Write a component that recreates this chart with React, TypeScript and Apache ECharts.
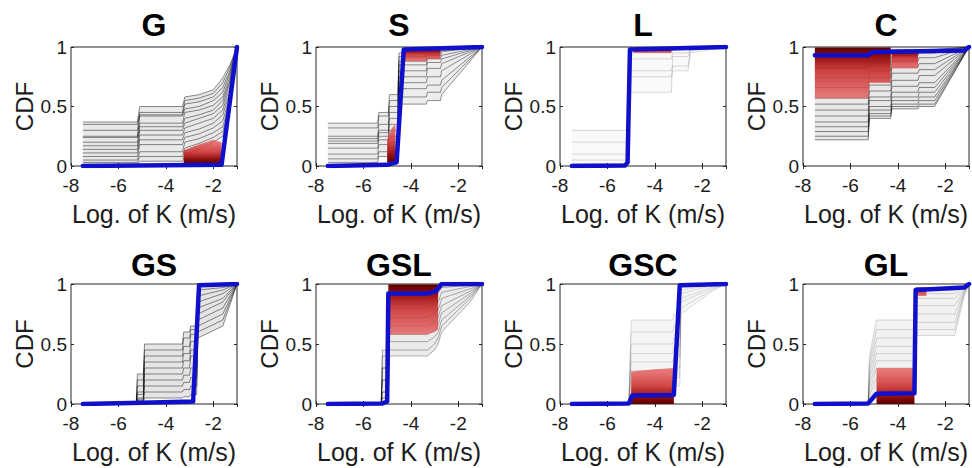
import React, { useEffect, useRef } from 'react';
import * as echarts from 'echarts';

// ---------- axis settings ----------
const X_MIN = -8;
const X_MAX = -1;
const X_STEP = 2;
const Y_MIN = 0;
const Y_MAX = 1;
const Y_STEP = 0.5;
const X_NAME = 'Log. of K (m/s)';
const Y_NAME = 'CDF';
const TITLES = ['G', 'S', 'L', 'C', 'GS', 'GSL', 'GSC', 'GL'];

// ---------- G ----------
const G_X = [-7.5, -5.2, -5.1, -3.3, -3.2, -2.6, -2.0, -1.6, -1.3, -1.0];
const G_CURVES = [
  [0.37, 0.37, 0.50, 0.50, 0.58, 0.60, 0.64, 0.74, 0.85, 1],
  [0.35, 0.35, 0.45, 0.45, 0.55, 0.57, 0.61, 0.70, 0.83, 1],
  [0.30, 0.30, 0.43, 0.43, 0.52, 0.54, 0.58, 0.66, 0.80, 1],
  [0.25, 0.25, 0.42, 0.42, 0.48, 0.50, 0.55, 0.62, 0.78, 1],
  [0.24, 0.24, 0.36, 0.36, 0.45, 0.47, 0.51, 0.58, 0.75, 1],
  [0.20, 0.20, 0.33, 0.33, 0.40, 0.43, 0.47, 0.55, 0.72, 1],
  [0.17, 0.17, 0.30, 0.30, 0.36, 0.40, 0.44, 0.51, 0.70, 1],
  [0.14, 0.14, 0.26, 0.26, 0.32, 0.36, 0.40, 0.47, 0.66, 1],
  [0.11, 0.11, 0.22, 0.22, 0.28, 0.31, 0.36, 0.43, 0.62, 1],
  [0.08, 0.08, 0.18, 0.18, 0.24, 0.27, 0.32, 0.38, 0.58, 1],
  [0.05, 0.05, 0.12, 0.12, 0.20, 0.23, 0.28, 0.33, 0.54, 1],
  [0.03, 0.03, 0.08, 0.08, 0.15, 0.19, 0.24, 0.29, 0.50, 1],
  [0.01, 0.01, 0.04, 0.04, 0.10, 0.14, 0.20, 0.25, 0.45, 1],
];
const G_BLUE_X = [-7.5, -5.2, -1.65, -1.0];
const G_BLUE_Y = [0, 0.005, 0.01, 1];
const G_RED_X = [-3.25, -2.6, -2.0, -1.65];
const G_RED_LO = [0.02, 0.02, 0.02, 0.02];
const G_RED_HI = [0.13, 0.18, 0.22, 0.2];

// ---------- S ----------
const S_X = [-7.5, -5.4, -5.35, -4.95, -4.9, -4.55, -4.5, -3.35, -3.3, -2.75, -2.7, -1.0];
const S_CURVES = [
  [0.36, 0.36, 0.45, 0.45, 0.60, 0.60, 0.95, 0.95, 0.97, 0.97, 0.98, 1],
  [0.32, 0.32, 0.42, 0.42, 0.55, 0.55, 0.92, 0.92, 0.96, 0.96, 0.97, 1],
  [0.25, 0.25, 0.35, 0.35, 0.50, 0.50, 0.88, 0.88, 0.93, 0.93, 0.96, 1],
  [0.23, 0.23, 0.30, 0.30, 0.45, 0.45, 0.85, 0.85, 0.90, 0.90, 0.93, 1],
  [0.21, 0.21, 0.28, 0.28, 0.40, 0.40, 0.80, 0.80, 0.87, 0.87, 0.90, 1],
  [0.19, 0.19, 0.25, 0.25, 0.35, 0.35, 0.75, 0.75, 0.82, 0.82, 0.86, 1],
  [0.15, 0.15, 0.22, 0.22, 0.30, 0.30, 0.70, 0.70, 0.75, 0.75, 0.80, 1],
  [0.10, 0.10, 0.18, 0.18, 0.25, 0.25, 0.65, 0.65, 0.68, 0.68, 0.72, 1],
  [0.06, 0.06, 0.12, 0.12, 0.20, 0.20, 0.58, 0.58, 0.62, 0.62, 0.66, 1],
  [0.03, 0.03, 0.08, 0.08, 0.15, 0.15, 0.52, 0.52, 0.55, 0.55, 0.60, 1],
];
const S_BLUE_X = [-7.5, -5.0, -4.6, -4.3, -1.0];
const S_BLUE_Y = [0, 0.01, 0.03, 0.98, 1];
const S_RED1_X = [-5.0, -4.8, -4.65];
const S_RED1_LO = [0.03, 0.03, 0.03];
const S_RED1_HI = [0.22, 0.32, 0.35];
const S_RED2_X = [-4.3, -3.35, -3.3, -2.75];
const S_RED2_LO = [0.88, 0.88, 0.9, 0.9];
const S_RED2_HI = [0.985, 0.985, 0.985, 0.985];

// ---------- L ----------
const L_X = [-7.5, -5.2, -5.1, -3.3, -3.25, -2.6, -2.5, -1.0];
const L_CURVES = [
  [0.30, 0.30, 0.97, 0.97, 0.99, 0.99, 1.0, 1],
  [0.20, 0.20, 0.95, 0.95, 0.98, 0.98, 1.0, 1],
  [0.10, 0.10, 0.90, 0.90, 0.95, 0.95, 0.99, 1],
  [0.05, 0.05, 0.80, 0.80, 0.84, 0.84, 0.97, 1],
  [0.02, 0.02, 0.75, 0.75, 0.80, 0.80, 0.95, 1],
  [0.00, 0.00, 0.62, 0.62, 0.92, 0.92, 0.98, 1],
];
const L_BLUE_X = [-7.5, -5.25, -5.15, -5.05, -1.0];
const L_BLUE_Y = [0, 0.005, 0.03, 0.98, 1];
const L_RED_X = [-4.9, -3.3];
const L_RED_LO = [0.95, 0.95];
const L_RED_HI = [0.975, 0.975];

// ---------- C ----------
const C_X = [-7.5, -5.25, -5.2, -4.3, -4.25, -3.15, -3.1, -2.45, -1.0];
const C_CURVES = [
  [0.96, 0.96, 0.97, 0.97, 0.98, 0.98, 0.98, 0.98, 1],
  [0.90, 0.90, 0.93, 0.93, 0.96, 0.96, 0.97, 0.97, 1],
  [0.82, 0.82, 0.87, 0.87, 0.93, 0.93, 0.95, 0.95, 1],
  [0.74, 0.74, 0.80, 0.80, 0.88, 0.88, 0.91, 0.91, 1],
  [0.66, 0.66, 0.74, 0.74, 0.83, 0.83, 0.86, 0.86, 1],
  [0.57, 0.57, 0.68, 0.68, 0.78, 0.78, 0.81, 0.81, 1],
  [0.52, 0.52, 0.63, 0.63, 0.72, 0.72, 0.76, 0.76, 1],
  [0.47, 0.47, 0.58, 0.58, 0.67, 0.67, 0.70, 0.70, 1],
  [0.42, 0.42, 0.55, 0.55, 0.62, 0.62, 0.66, 0.66, 1],
  [0.37, 0.37, 0.50, 0.50, 0.58, 0.58, 0.62, 0.62, 1],
  [0.33, 0.33, 0.47, 0.47, 0.55, 0.55, 0.58, 0.58, 1],
  [0.29, 0.29, 0.44, 0.44, 0.52, 0.52, 0.55, 0.55, 1],
  [0.25, 0.25, 0.42, 0.42, 0.50, 0.50, 0.52, 0.52, 1],
  [0.22, 0.22, 0.40, 0.40, 0.48, 0.48, 0.50, 0.50, 1],
];
const C_BLUE_X = [-7.5, -5.25, -5.1, -4.3, -1.2, -1.0];
const C_BLUE_Y = [0.93, 0.93, 0.955, 0.96, 0.97, 1];
const C_RED1_X = [-7.5, -5.25, -5.2, -4.3];
const C_RED1_LO = [0.57, 0.57, 0.7, 0.7];
const C_RED1_HI = [0.995, 0.995, 0.995, 0.995];
const C_RED2_X = [-4.25, -3.15];
const C_RED2_LO = [0.82, 0.82];
const C_RED2_HI = [0.975, 0.975];

// ---------- GS ----------
const GS_X = [-7.5, -5.25, -5.2, -4.95, -4.9, -3.3, -3.25, -3.0, -2.95, -2.7, -2.65, -1.6, -1.0];
const GS_CURVES = [
  [0, 0, 0.25, 0.25, 0.50, 0.50, 0.60, 0.60, 0.65, 0.65, 0.99, 0.99, 1],
  [0, 0, 0.20, 0.20, 0.45, 0.45, 0.55, 0.55, 0.62, 0.62, 0.95, 0.97, 1],
  [0, 0, 0.15, 0.15, 0.40, 0.40, 0.48, 0.48, 0.58, 0.58, 0.90, 0.95, 1],
  [0, 0, 0.10, 0.10, 0.35, 0.35, 0.42, 0.42, 0.52, 0.52, 0.85, 0.92, 1],
  [0, 0, 0.08, 0.08, 0.30, 0.30, 0.36, 0.36, 0.45, 0.45, 0.80, 0.88, 1],
  [0, 0, 0.05, 0.05, 0.25, 0.25, 0.30, 0.30, 0.40, 0.40, 0.75, 0.85, 1],
  [0, 0, 0.04, 0.04, 0.20, 0.20, 0.24, 0.24, 0.30, 0.30, 0.70, 0.80, 1],
  [0, 0, 0.03, 0.03, 0.15, 0.15, 0.18, 0.18, 0.22, 0.22, 0.65, 0.75, 1],
  [0, 0, 0.02, 0.02, 0.10, 0.10, 0.12, 0.12, 0.15, 0.15, 0.60, 0.70, 1],
  [0, 0, 0.01, 0.01, 0.05, 0.05, 0.06, 0.06, 0.08, 0.08, 0.55, 0.65, 1],
];
const GS_BLUE_X = [-7.5, -5.0, -2.85, -2.6, -1.0];
const GS_BLUE_Y = [0, 0.01, 0.02, 0.99, 1];

// ---------- GSL ----------
const GSL_X = [-7.5, -5.25, -5.2, -4.95, -4.9, -3.3, -3.0, -2.85, -2.7, -1.5, -1.0];
const GSL_CURVES = [
  [0, 0, 0.05, 0.05, 0.99, 0.99, 0.99, 0.99, 1.0, 1.0, 1],
  [0, 0, 0.10, 0.10, 0.95, 0.95, 0.96, 0.96, 0.99, 1.0, 1],
  [0, 0, 0.20, 0.20, 0.88, 0.88, 0.90, 0.92, 0.97, 0.99, 1],
  [0, 0, 0.30, 0.30, 0.80, 0.80, 0.83, 0.85, 0.93, 0.98, 1],
  [0, 0, 0.40, 0.40, 0.72, 0.72, 0.76, 0.78, 0.88, 0.96, 1],
  [0, 0, 0.45, 0.45, 0.65, 0.65, 0.68, 0.72, 0.82, 0.94, 1],
  [0, 0, 0.30, 0.30, 0.58, 0.58, 0.62, 0.66, 0.76, 0.92, 1],
  [0, 0, 0.20, 0.20, 0.52, 0.52, 0.56, 0.60, 0.70, 0.90, 1],
  [0, 0, 0.10, 0.10, 0.45, 0.45, 0.50, 0.55, 0.65, 0.88, 1],
  [0, 0, 0.05, 0.05, 0.40, 0.40, 0.45, 0.50, 0.60, 0.85, 1],
];
const GSL_BLUE_X = [-7.5, -5.2, -5.0, -4.95, -3.3, -2.95, -2.7, -1.0];
const GSL_BLUE_Y = [0, 0.005, 0.02, 0.92, 0.92, 0.94, 1.0, 1.0];
const GSL_RED_X = [-4.95, -3.3, -3.0, -2.85];
const GSL_RED_LO = [0.58, 0.58, 0.6, 0.62];
const GSL_RED_HI = [0.995, 0.995, 0.995, 0.995];

// ---------- GSC ----------
const GSC_X = [-7.5, -5.1, -5.0, -3.25, -3.2, -2.95, -2.9, -1.5, -1.0];
const GSC_CURVES = [
  [0, 0, 0.70, 0.70, 0.75, 0.75, 0.99, 1.0, 1],
  [0, 0, 0.60, 0.60, 0.65, 0.65, 0.97, 1.0, 1],
  [0, 0, 0.50, 0.50, 0.55, 0.55, 0.95, 0.99, 1],
  [0, 0, 0.42, 0.42, 0.48, 0.48, 0.92, 0.99, 1],
  [0, 0, 0.35, 0.35, 0.40, 0.40, 0.88, 0.98, 1],
  [0, 0, 0.28, 0.28, 0.30, 0.30, 0.85, 0.97, 1],
  [0, 0, 0.20, 0.20, 0.22, 0.22, 0.80, 0.96, 1],
  [0, 0, 0.12, 0.12, 0.15, 0.15, 0.75, 0.95, 1],
];
const GSC_BLUE_X = [-7.5, -5.1, -4.95, -3.2, -2.95, -1.0];
const GSC_BLUE_Y = [0, 0.005, 0.07, 0.075, 0.99, 1];
const GSC_RED_X = [-5.0, -4.0, -3.2];
const GSC_RED_LO = [0, 0, 0];
const GSC_RED_HI = [0.27, 0.29, 0.3];

// ---------- GL ----------
const GL_X = [-7.5, -5.25, -5.2, -4.9, -3.3, -3.25, -1.6, -1.2, -1.0];
const GL_CURVES = [
  [0, 0, 0.40, 0.70, 0.70, 0.97, 0.97, 0.99, 1],
  [0, 0, 0.35, 0.62, 0.62, 0.95, 0.95, 0.98, 1],
  [0, 0, 0.30, 0.55, 0.55, 0.92, 0.92, 0.97, 1],
  [0, 0, 0.25, 0.48, 0.48, 0.88, 0.88, 0.96, 1],
  [0, 0, 0.20, 0.42, 0.42, 0.82, 0.82, 0.95, 1],
  [0, 0, 0.15, 0.36, 0.36, 0.75, 0.75, 0.94, 1],
  [0, 0, 0.10, 0.30, 0.30, 0.68, 0.68, 0.93, 1],
  [0, 0, 0.06, 0.22, 0.22, 0.62, 0.62, 0.92, 1],
  [0, 0, 0.03, 0.15, 0.15, 0.57, 0.57, 0.90, 1],
];
const GL_BLUE_X = [-7.5, -5.25, -4.9, -3.3, -3.25, -1.2, -1.0];
const GL_BLUE_Y = [0, 0.005, 0.085, 0.09, 0.95, 0.97, 1];
const GL_RED1_X = [-4.9, -3.3];
const GL_RED1_LO = [0, 0];
const GL_RED1_HI = [0.3, 0.3];
const GL_RED2_X = [-3.25, -2.8];
const GL_RED2_LO = [0.9, 0.9];
const GL_RED2_HI = [0.97, 0.97];

// ---------- layout / style ----------
const FONT = '"Liberation Sans", Arial, Helvetica, sans-serif';
const INK = '#1c1c1c';
const BLUE = '#1010cc';
const LEFTS = [71, 316, 560, 803];
const ROW_TOP = [47, 284];
const ROW_H = [119, 120];
const GRID_W = 166;

type Band = { x: number[]; lo: number[]; hi: number[]; dark: 'top' | 'bottom' };
type Panel = {
  title: string;
  x: number[];
  curves: number[][];
  grayAlpha: number;
  shade: number;
  blueX: number[];
  blueY: number[];
  bands: Band[];
};

const PANELS: Panel[] = [
  { title: TITLES[0], x: G_X, curves: G_CURVES, grayAlpha: 0.45, shade: 0.09, blueX: G_BLUE_X, blueY: G_BLUE_Y,
    bands: [{ x: G_RED_X, lo: G_RED_LO, hi: G_RED_HI, dark: 'bottom' }] },
  { title: TITLES[1], x: S_X, curves: S_CURVES, grayAlpha: 0.42, shade: 0.07, blueX: S_BLUE_X, blueY: S_BLUE_Y,
    bands: [
      { x: S_RED1_X, lo: S_RED1_LO, hi: S_RED1_HI, dark: 'bottom' },
      { x: S_RED2_X, lo: S_RED2_LO, hi: S_RED2_HI, dark: 'top' },
    ] },
  { title: TITLES[2], x: L_X, curves: L_CURVES, grayAlpha: 0.15, shade: 0.025, blueX: L_BLUE_X, blueY: L_BLUE_Y,
    bands: [{ x: L_RED_X, lo: L_RED_LO, hi: L_RED_HI, dark: 'top' }] },
  { title: TITLES[3], x: C_X, curves: C_CURVES, grayAlpha: 0.45, shade: 0.09, blueX: C_BLUE_X, blueY: C_BLUE_Y,
    bands: [
      { x: C_RED1_X, lo: C_RED1_LO, hi: C_RED1_HI, dark: 'top' },
      { x: C_RED2_X, lo: C_RED2_LO, hi: C_RED2_HI, dark: 'top' },
    ] },
  { title: TITLES[4], x: GS_X, curves: GS_CURVES, grayAlpha: 0.45, shade: 0.1, blueX: GS_BLUE_X, blueY: GS_BLUE_Y, bands: [] },
  { title: TITLES[5], x: GSL_X, curves: GSL_CURVES, grayAlpha: 0.3, shade: 0.08, blueX: GSL_BLUE_X, blueY: GSL_BLUE_Y,
    bands: [{ x: GSL_RED_X, lo: GSL_RED_LO, hi: GSL_RED_HI, dark: 'top' }] },
  { title: TITLES[6], x: GSC_X, curves: GSC_CURVES, grayAlpha: 0.12, shade: 0.04, blueX: GSC_BLUE_X, blueY: GSC_BLUE_Y,
    bands: [{ x: GSC_RED_X, lo: GSC_RED_LO, hi: GSC_RED_HI, dark: 'bottom' }] },
  { title: TITLES[7], x: GL_X, curves: GL_CURVES, grayAlpha: 0.15, shade: 0.05, blueX: GL_BLUE_X, blueY: GL_BLUE_Y,
    bands: [
      { x: GL_RED1_X, lo: GL_RED1_LO, hi: GL_RED1_HI, dark: 'bottom' },
      { x: GL_RED2_X, lo: GL_RED2_LO, hi: GL_RED2_HI, dark: 'top' },
    ] },
];

function redGradient(dark: 'top' | 'bottom') {
  const stops =
    dark === 'top'
      ? [
          { offset: 0, color: '#5a0000' },
          { offset: 0.16, color: '#8e0c0c' },
          { offset: 0.45, color: 'rgba(200,45,45,0.9)' },
          { offset: 1, color: 'rgba(228,95,95,0.8)' },
        ]
      : [
          { offset: 0, color: 'rgba(232,100,100,0.8)' },
          { offset: 0.5, color: 'rgba(205,50,50,0.9)' },
          { offset: 0.82, color: '#8e0c0c' },
          { offset: 1, color: '#5a0000' },
        ];
  return new echarts.graphic.LinearGradient(0, 0, 0, 1, stops);
}

function polygonSeries(xi: number, yi: number, xs: number[], lo: number[], hi: number[], fill: any, z: number) {
  return {
    type: 'custom', xAxisIndex: xi, yAxisIndex: yi, silent: true, z,
    data: [[xs[0], lo[0]]],
    renderItem: (_params: any, api: any) => {
      const pts: number[][] = [];
      for (let k = 0; k < xs.length; k++) pts.push(api.coord([xs[k], hi[k]]));
      for (let k = xs.length - 1; k >= 0; k--) pts.push(api.coord([xs[k], lo[k]]));
      return { type: 'polygon', shape: { points: pts }, style: { fill, stroke: 'none' } };
    },
  };
}

function buildOption() {
  const grid: any[] = [];
  const xAxis: any[] = [];
  const yAxis: any[] = [];
  const series: any[] = [];
  const graphic: any[] = [];

  PANELS.forEach((p, i) => {
    const row = i < 4 ? 0 : 1;
    const left = LEFTS[i % 4];
    const top = ROW_TOP[row];
    const h = ROW_H[row];
    grid.push({
      left, top, width: GRID_W, height: h, show: true,
      borderColor: '#262626', borderWidth: 1, backgroundColor: '#ffffff',
    });
    const tick = { show: true, inside: true, length: 3, lineStyle: { color: '#262626', width: 1 } };
    xAxis.push({
      gridIndex: i, type: 'value', min: X_MIN, max: X_MAX, interval: X_STEP, position: 'bottom',
      axisLine: { show: false }, axisTick: tick, splitLine: { show: false },
      axisLabel: { fontSize: 19, color: INK, margin: 10, fontFamily: FONT, showMaxLabel: false },
      name: X_NAME, nameLocation: 'middle', nameGap: 35,
      nameTextStyle: { fontSize: 25, color: INK, fontFamily: FONT },
    });
    xAxis.push({
      gridIndex: i, type: 'value', min: X_MIN, max: X_MAX, interval: X_STEP, position: 'top',
      axisLine: { show: false }, axisTick: tick, splitLine: { show: false }, axisLabel: { show: false },
    });
    yAxis.push({
      gridIndex: i, type: 'value', min: Y_MIN, max: Y_MAX, interval: Y_STEP, position: 'left',
      axisLine: { show: false }, axisTick: tick, splitLine: { show: false },
      axisLabel: { fontSize: 19, color: INK, margin: 4, fontFamily: FONT },
      name: Y_NAME, nameLocation: 'middle', nameGap: 33,
      nameTextStyle: { fontSize: 24, color: INK, fontFamily: FONT },
    });
    yAxis.push({
      gridIndex: i, type: 'value', min: Y_MIN, max: Y_MAX, interval: Y_STEP, position: 'right',
      axisLine: { show: false }, axisTick: tick, splitLine: { show: false }, axisLabel: { show: false },
    });
    const xi = i * 2;
    const yi = i * 2;

    // light envelope of the ensemble (from the min and max of the curves)
    const envLo = p.x.map((_, k) => Math.min(...p.curves.map((c) => c[k])));
    const envHi = p.x.map((_, k) => Math.max(...p.curves.map((c) => c[k])));
    series.push(polygonSeries(xi, yi, p.x, envLo, envHi, `rgba(0,0,0,${p.shade})`, 1));

    p.curves.forEach((c) => {
      series.push({
        type: 'line', xAxisIndex: xi, yAxisIndex: yi, silent: true, symbol: 'none', z: 2,
        data: p.x.map((x, k) => [x, c[k]]),
        lineStyle: { color: `rgba(0,0,0,${p.grayAlpha})`, width: 1 },
      });
    });

    p.bands.forEach((b) => {
      series.push(polygonSeries(xi, yi, b.x, b.lo, b.hi, redGradient(b.dark), 3));
    });

    series.push({
      type: 'line', xAxisIndex: xi, yAxisIndex: yi, silent: true, symbol: 'none', z: 5,
      data: p.blueX.map((x, k) => [x, p.blueY[k]]),
      lineStyle: { color: BLUE, width: 4.5, cap: 'round', join: 'round' },
    });

    graphic.push({
      type: 'text', x: left + GRID_W / 2, y: row === 0 ? 25 : 265, silent: true,
      style: {
        text: p.title, textAlign: 'center', textVerticalAlign: 'middle',
        font: `bold 32px ${FONT}`, fill: '#000',
      },
    });
  });

  return { animation: false, backgroundColor: '#ffffff', grid, xAxis, yAxis, series, graphic };
}

export default function App() {
  const ref = useRef<HTMLDivElement>(null);
  useEffect(() => {
    if (!ref.current) return;
    const chart = echarts.init(ref.current, undefined, { renderer: 'svg' });
    chart.setOption(buildOption());
    return () => chart.dispose();
  }, []);
  return (
    <div
      ref={ref}
      style={{ position: 'fixed', left: 0, top: 0, width: 972, height: 468, background: '#fff' }}
    />
  );
}
